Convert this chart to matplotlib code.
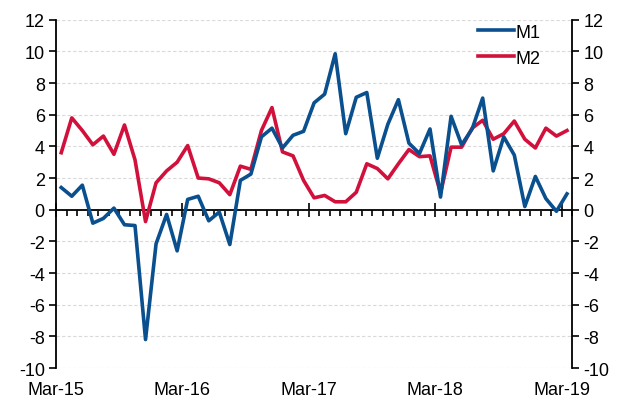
import numpy as np
import matplotlib as mpl
import matplotlib.pyplot as plt
from matplotlib.ticker import FixedLocator, MultipleLocator

mpl.rcParams['font.family'] = ['Liberation Sans', 'DejaVu Sans']
mpl.rcParams['axes.unicode_minus'] = False

# monthly, Mar-15 .. Mar-19
months = ['Mar-15', 'Mar-16', 'Mar-17', 'Mar-18', 'Mar-19']
m1 = [1.4, 0.85, 1.55, -0.85, -0.55, 0.1, -0.95, -1.0, -8.2, -2.15, -0.3, -2.6,
      0.65, 0.85, -0.7, -0.15, -2.2, 1.85, 2.25, 4.6, 5.15, 3.9, 4.7, 4.95,
      6.75, 7.3, 9.85, 4.8, 7.1, 7.4, 3.25, 5.4, 6.95, 4.2, 3.55, 5.1,
      0.8, 5.9, 4.1, 5.1, 7.05, 2.45, 4.6, 3.45, 0.2, 2.1, 0.7, -0.1, 1.0]
m2 = [3.6, 5.8, 5.0, 4.1, 4.65, 3.5, 5.35, 3.15, -0.75, 1.7, 2.45, 3.0,
      4.05, 2.0, 1.95, 1.7, 0.95, 2.75, 2.55, 5.0, 6.45, 3.65, 3.4, 1.85,
      0.75, 0.9, 0.5, 0.5, 1.1, 2.9, 2.6, 1.95, 2.9, 3.8, 3.35, 3.4,
      1.05, 3.95, 3.95, 5.15, 5.65, 4.45, 4.8, 5.6, 4.45, 3.9, 5.15, 4.65, 5.0]

blue = '#0A4F8E'
red = '#D2103C'
x = np.arange(len(m1))

fig = plt.figure(figsize=(6.22, 4.02), dpi=100)
ax = fig.add_axes([0.090, 0.082, 0.830, 0.8665])

ax.set_ylim(-10, 12)
ax.set_xlim(-0.5, len(m1) - 0.5)
ax.yaxis.set_major_locator(MultipleLocator(2))
ax.grid(axis='y', color='#D9D9D9', linestyle=(0, (3, 2)), linewidth=0.8)
ax.set_axisbelow(True)

l1, = ax.plot(x, m1, color=blue, lw=2.6, label='M1', zorder=4)
l2, = ax.plot(x, m2, color=red, lw=2.6, label='M2', zorder=3)

# x axis line sits at zero
for s in ['top', 'right']:
    ax.spines[s].set_visible(False)
ax.spines['bottom'].set_position(('data', 0))
ax.spines['bottom'].set_linewidth(1.3)
ax.spines['left'].set_linewidth(1.3)
ax.xaxis.set_major_locator(FixedLocator(np.arange(-0.5, len(m1), 12)))
ax.xaxis.set_minor_locator(FixedLocator(np.arange(-0.5, len(m1), 1)))
ax.tick_params(axis='x', which='major', direction='inout', length=10, width=1.2, labelbottom=False)
ax.tick_params(axis='x', which='minor', direction='out', length=4, width=1.2)
ax.tick_params(axis='y', direction='out', length=5, width=1.2, labelsize=13, pad=3)

# right axis copy
ax2 = ax.twinx()
ax2.set_ylim(-10, 12)
ax2.yaxis.set_major_locator(MultipleLocator(2))
for s in ['top', 'left', 'bottom']:
    ax2.spines[s].set_visible(False)
ax2.spines['right'].set_linewidth(1.3)
ax2.tick_params(axis='y', direction='out', length=5, width=1.2, labelsize=13, pad=3)

# date labels along the bottom
ax3 = ax.twiny()
ax3.set_xlim(ax.get_xlim())
ax3.xaxis.set_ticks_position('bottom')
ax3.xaxis.set_label_position('bottom')
ax3.set_xticks(np.arange(-0.5, len(m1), 12))
ax3.set_xticklabels(months)
ax3.tick_params(axis='x', length=0, labelsize=13, pad=9)
for s in ax3.spines.values():
    s.set_visible(False)

ax.legend(handles=[l1, l2], loc='upper right', bbox_to_anchor=(0.97, 1.035), frameon=False,
          fontsize=13, handlelength=2.0, handletextpad=0.1, labelspacing=0.5)

fig.savefig('out.png', dpi=100)
